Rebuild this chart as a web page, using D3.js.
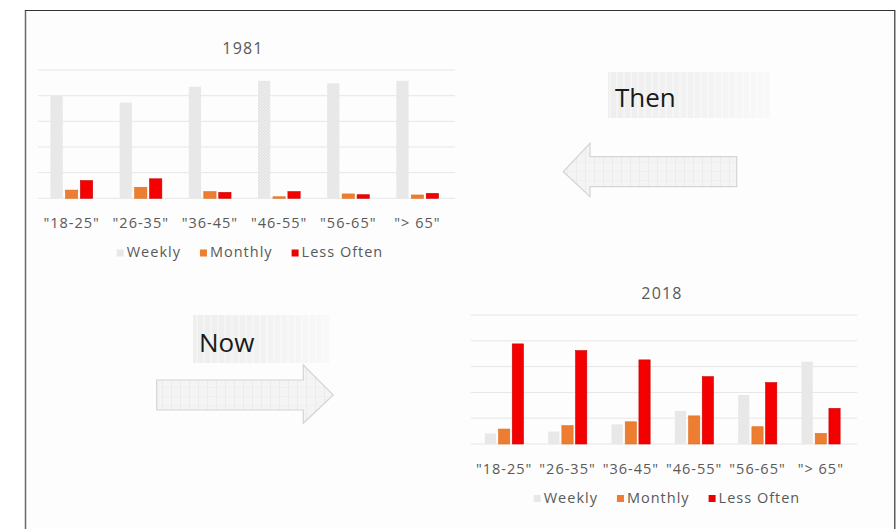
<!DOCTYPE html>
<html><head><meta charset="utf-8">
<script src="https://cdn.jsdelivr.net/npm/d3@7"></script>
<style>
html,body{margin:0;padding:0;background:#fff;}
svg{display:block;}
text{font-family:"Open Sans",sans-serif;}
</style></head>
<body>
<svg id="c" width="896" height="529"></svg>
<script>
const categories = ['"18-25"', '"26-35"', '"36-45"', '"46-55"', '"56-65"', '"> 65"'];
const seriesNames = ["Weekly", "Monthly", "Less Often"];
const weekly1981 = [39.9, 37.3, 43.5, 45.8, 44.8, 45.8];
const monthly1981 = [3.2, 4.3, 2.6, 0.6, 1.7, 1.3];
const less1981 = [6.9, 7.6, 2.3, 2.6, 1.4, 1.9];
const weekly2018 = [4.1, 4.8, 7.6, 12.8, 19.0, 31.9];
const monthly2018 = [5.8, 7.1, 8.6, 10.9, 6.7, 4.1];
const less2018 = [38.8, 36.2, 32.6, 26.1, 23.8, 13.8];
const yTicks = [0, 10, 20, 30, 40, 50];
const titles = ["1981", "2018"];
const labelThen = "Then", labelNow = "Now";

const svg = d3.select("#c");
const defs = svg.append("defs");

// patterns
const hatch = defs.append("pattern").attr("id","hatch").attr("width",3).attr("height",3).attr("patternUnits","userSpaceOnUse");
hatch.append("rect").attr("width",3).attr("height",3).attr("fill","#eeeeee");
hatch.append("rect").attr("width",1.5).attr("height",1.5).attr("fill","#e2e2e2");
hatch.append("rect").attr("x",1.5).attr("y",1.5).attr("width",1.5).attr("height",1.5).attr("fill","#e2e2e2");

const stripes = defs.append("pattern").attr("id","stripes").attr("width",9).attr("height",9).attr("patternUnits","userSpaceOnUse");
stripes.append("rect").attr("width",9).attr("height",9).attr("fill","#f4f4f4");
stripes.append("rect").attr("width",1).attr("height",9).attr("fill","#ebebeb");
stripes.append("rect").attr("width",9).attr("height",1).attr("fill","#efefef");

const lg = defs.append("linearGradient").attr("id","boxg").attr("x1","0").attr("x2","1").attr("y1","0").attr("y2","0");
lg.append("stop").attr("offset","0").attr("stop-color","#eeeeee");
lg.append("stop").attr("offset","0.55").attr("stop-color","#f2f2f2");
lg.append("stop").attr("offset","1").attr("stop-color","#f9f9f9");

const boxStripes = defs.append("pattern").attr("id","bstripes").attr("width",7).attr("height",50).attr("patternUnits","userSpaceOnUse");
boxStripes.append("rect").attr("width",2).attr("height",50).attr("fill","#ffffff").attr("opacity",0.35);

// frame
svg.append("rect").attr("x",25.5).attr("y",10).attr("width",869.5).attr("height",519).attr("fill","#fdfdfd");
svg.append("line").attr("x1",25.5).attr("x2",25.5).attr("y1",10).attr("y2",529).attr("stroke","#6a6a6a").attr("stroke-width",1.5);
svg.append("line").attr("x1",25).attr("x2",895).attr("y1",10.5).attr("y2",10.5).attr("stroke","#333").attr("stroke-width",1.2);
svg.append("line").attr("x1",894.8).attr("x2",894.8).attr("y1",10).attr("y2",529).attr("stroke","#333").attr("stroke-width",1.2);

const colors = {"Weekly":"url(#hatch)","Monthly":"#ed7d31","Less Often":"#f50000"};
const strokes = {"Weekly":"none","Monthly":"#e07020","Less Often":"#c80000"};
const legendColors = {"Weekly":"#e8e8e8","Monthly":"#ed7d31","Less Often":"#ee0000"};

function chart(opt){
  const g = svg.append("g");
  const y = d3.scaleLinear().domain([0,50]).range([opt.base, opt.top]);
  const x0 = d3.scaleBand().domain(categories).range(opt.xr).paddingInner(opt.pad).paddingOuter(opt.pad/2);
  const x1 = d3.scaleBand().domain(seriesNames).range([0, x0.bandwidth()]).paddingInner(0.18);
  // gridlines
  g.selectAll(".grid").data(yTicks).join("line")
    .attr("x1",opt.gx[0]).attr("x2",opt.gx[1])
    .attr("y1",d=>y(d)).attr("y2",d=>y(d))
    .attr("stroke","#e6e6e6").attr("stroke-width",1);
  // title
  g.append("text").attr("x",opt.titleX).attr("y",opt.titleY).attr("text-anchor","middle")
    .attr("font-size",16).attr("letter-spacing","1.2px").attr("fill","#595959").text(opt.title);
  // bars
  const rows = categories.map((c,i)=>({c, vals: seriesNames.map((s,j)=>({s, v: opt.data[j][i]}))}));
  const grp = g.selectAll(".grp").data(rows).join("g").attr("transform",d=>`translate(${x0(d.c)},0)`);
  grp.selectAll("rect").data(d=>d.vals).join("rect")
    .attr("x",d=>x1(d.s)).attr("width",x1.bandwidth())
    .attr("y",d=>y(d.v)).attr("height",d=>y(0)-y(d.v))
    .attr("fill",d=>colors[d.s]).attr("stroke",d=>strokes[d.s]).attr("stroke-width",0.6);
  // x axis labels
  const ax = d3.axisBottom(x0).tickSize(0).tickPadding(0);
  const axg = g.append("g").attr("transform",`translate(0,${opt.tickY})`).call(ax);
  axg.select(".domain").remove();
  axg.selectAll("text").attr("font-size",14.5).attr("letter-spacing","1px").attr("fill","#595959")
    .attr("font-family","Open Sans, sans-serif").attr("dy","0");
  // legend
  const lgG = g.append("g");
  let cx = 0;
  seriesNames.forEach((s,i)=>{
    const it = lgG.append("g").attr("transform",`translate(${cx},0)`);
    it.append("rect").attr("x",0).attr("y",-7.5).attr("width",7).attr("height",7).attr("fill",legendColors[s]);
    const t = it.append("text").attr("x",10).attr("y",0).attr("font-size",14.5).attr("letter-spacing","1px")
      .attr("fill","#595959").text(s);
    cx += 10 + t.node().getComputedTextLength() + 19;
  });
  const w = cx - 19;
  lgG.attr("transform",`translate(${opt.legendCX - w/2},${opt.legendY})`);
}

chart({data:[weekly1981,monthly1981,less1981], title:titles[0], base:198.3, top:70,
  xr:[37,452], pad:0.39, gx:[38,455], titleX:243, titleY:54, tickY:228, legendY:257, legendCX:250});
chart({data:[weekly2018,monthly2018,less2018], title:titles[1], base:444, top:315,
  xr:[472.5,852.5], pad:0.39, gx:[471,857], titleX:662, titleY:299, tickY:473.5, legendY:502.5, legendCX:667});

// Then box + left arrow
svg.append("rect").attr("x",608).attr("y",72).attr("width",162).attr("height",46).attr("fill","url(#boxg)");
svg.append("rect").attr("x",608).attr("y",72).attr("width",162).attr("height",46).attr("fill","url(#bstripes)");
svg.append("text").attr("x",615).attr("y",107).attr("font-size",26).attr("fill","#1a1a1a").text(labelThen);

const leftArrow = d3.path();
leftArrow.moveTo(563.3,171.7); leftArrow.lineTo(590,143.3); leftArrow.lineTo(590,156.7);
leftArrow.lineTo(736.7,156.7); leftArrow.lineTo(736.7,186.7); leftArrow.lineTo(590,186.7);
leftArrow.lineTo(590,196.7); leftArrow.closePath();
svg.append("path").attr("d",leftArrow.toString()).attr("fill","url(#stripes)").attr("stroke","#d4d4d4").attr("stroke-width",1.2);

// Now box + right arrow
svg.append("rect").attr("x",193).attr("y",315).attr("width",137).attr("height",48).attr("fill","url(#boxg)");
svg.append("rect").attr("x",193).attr("y",315).attr("width",137).attr("height",48).attr("fill","url(#bstripes)");
svg.append("text").attr("x",199).attr("y",351.5).attr("font-size",26).attr("fill","#1a1a1a").text(labelNow);

const rightArrow = d3.path();
rightArrow.moveTo(156.7,380); rightArrow.lineTo(303.3,380); rightArrow.lineTo(303.3,365);
rightArrow.lineTo(333.3,395); rightArrow.lineTo(303.3,423.3); rightArrow.lineTo(303.3,410);
rightArrow.lineTo(156.7,410); rightArrow.closePath();
svg.append("path").attr("d",rightArrow.toString()).attr("fill","url(#stripes)").attr("stroke","#d4d4d4").attr("stroke-width",1.2);
</script>
</body></html>
